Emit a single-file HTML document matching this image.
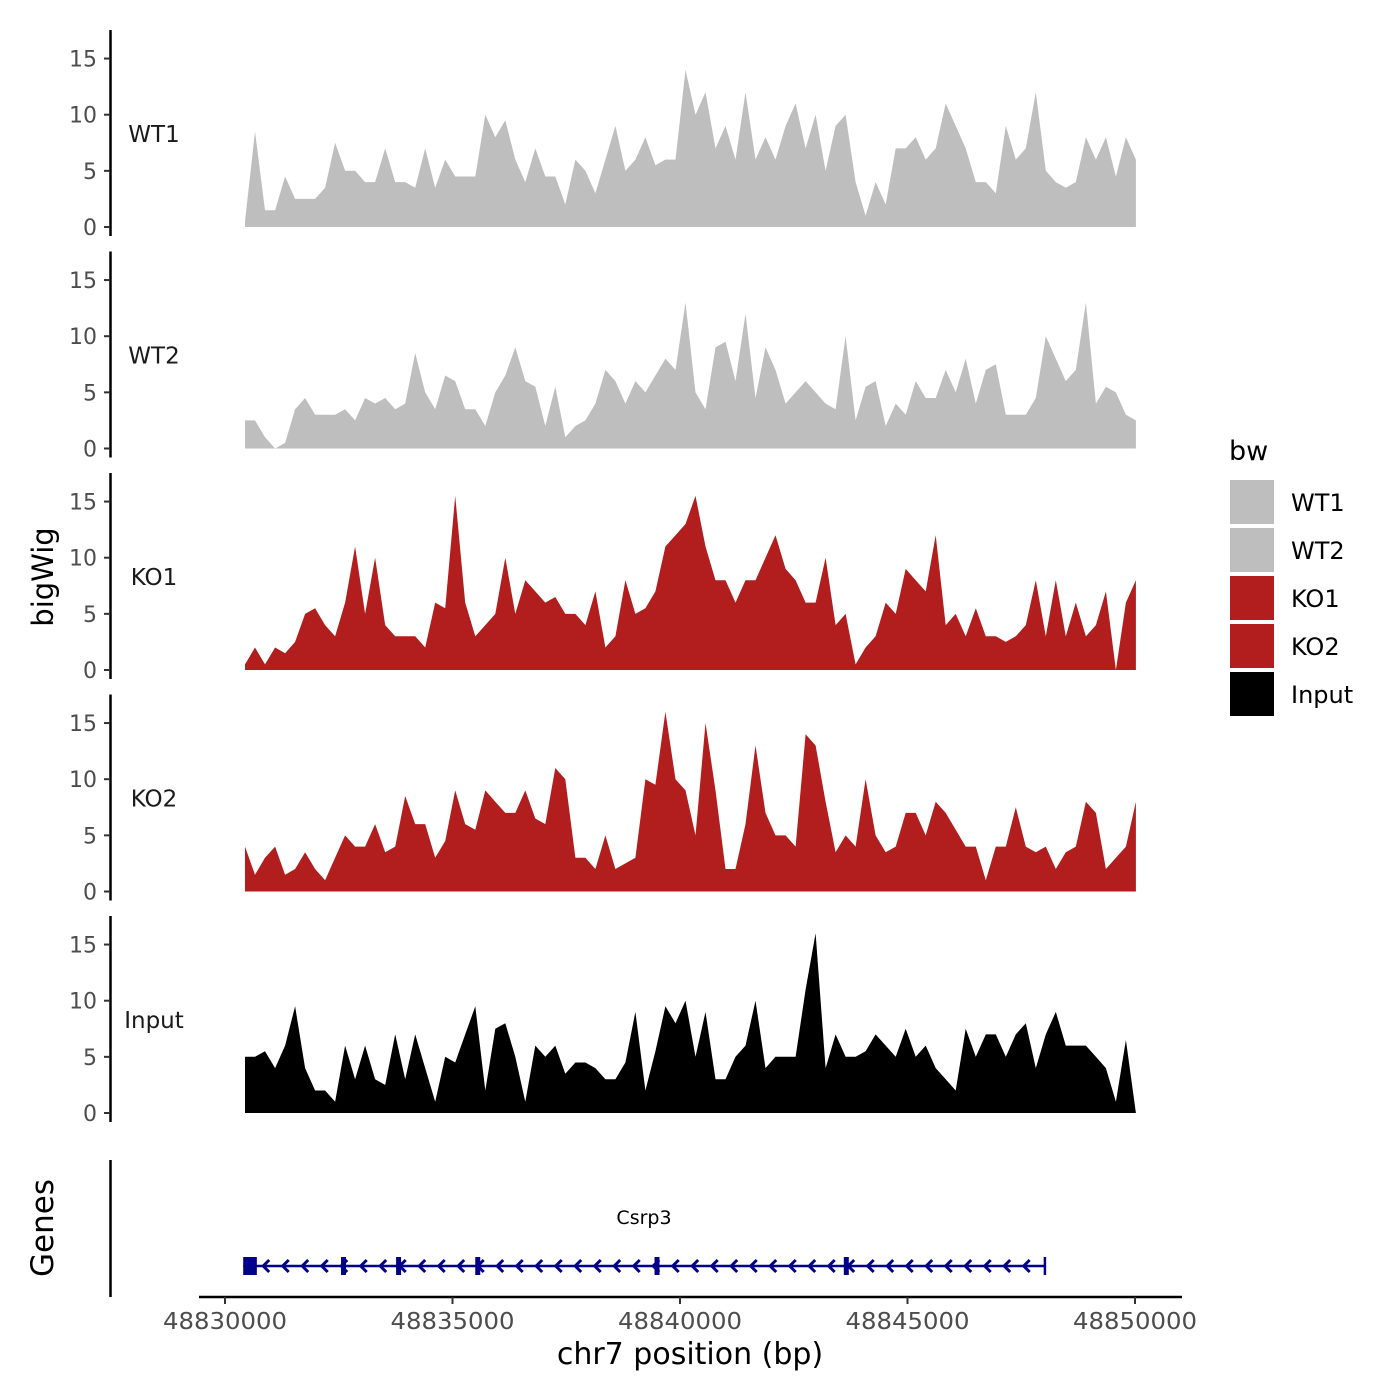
<!DOCTYPE html>
<html><head><meta charset="utf-8">
<style>
html,body{margin:0;padding:0;background:#fff;}
svg{display:block;font-family:"DejaVu Sans","Liberation Sans",sans-serif;}
</style></head>
<body>
<svg id="chart" width="1400" height="1400" viewBox="0 0 1400 1400" xmlns="http://www.w3.org/2000/svg">
<rect x="0" y="0" width="1400" height="1400" fill="#fff"/>
<g id="tracks"></g>
<g id="genes"></g>
<g id="xaxis"></g>
<text x="53" y="577" font-size="29" fill="#000" text-anchor="middle" transform="rotate(-90 53 577)">bigWig</text>
<text x="53" y="1228" font-size="31" fill="#000" text-anchor="middle" transform="rotate(-90 53 1228)">Genes</text>
<text x="690" y="1364" font-size="30" fill="#000" text-anchor="middle">chr7 position (bp)</text>
<g id="legend">
<text x="1229" y="460" font-size="27" fill="#000">bw</text>
</g>
</svg>
<script>
const trackNames = ["WT1","WT2","KO1","KO2","Input"];
const trackColors = ["#bebebe","#bebebe","#b21e1e","#b21e1e","#000000"];
const binStart = 48830440;
const binStep = 220;
const wt1 = [0.5,8.5,1.5,1.5,4.5,2.5,2.5,2.5,3.5,7.5,5,5,4,4,7,4,4,3.5,7,3.5,6,4.5,4.5,4.5,10,8,9.5,6,4,7,4.5,4.5,2,6,5,3,6,9,5,6,8,5.5,6,6,14,10,12,7,9,6,12,6,8,6,9,11,7,10,5,9,10,4,1,4,2,7,7,8,6,7,11,9,7,4,4,3,9,6,7,12,5,4,3.5,4,8,6,8,4.5,8,6];
const wt2 = [2.5,2.5,1,0,0.5,3.5,4.5,3,3,3,3.5,2.5,4.5,4,4.5,3.5,4,8.5,5,3.5,6.5,6,3.5,3.5,2,5,6.5,9,6,5.5,2,5.5,1,2,2.5,4,7,6,4,6,5,6.5,8,7,13,5,3.5,9,9.5,6,12,4.5,9,7,4,5,6,5,4,3.5,10,2.5,5.5,6,2,4,3,6,4.5,4.5,7,5,8,4,7,7.5,3,3,3,4.5,10,8,6,7,13,4,5.5,5,3,2.5];
const ko1 = [0.5,2,0.5,2,1.5,2.5,5,5.5,4,3,6,11,5,10,4,3,3,3,2,6,5.5,15.5,6,3,4,5,10,5,8,7,6,6.5,5,5,4,7,2,3,8,5,5.5,7,11,12,13,15.5,11,8,8,6,8,8,10,12,9,8,6,6,10,4,5,0.5,2,3,6,5,9,8,7,12,4,5,3,5.5,3,3,2.5,3,4,8,3,8,3,6,3,4,7,0,6,8];
const ko2 = [4,1.5,3,4,1.5,2,3.5,2,1,3,5,4,4,6,3.5,4,8.5,6,6,3,4.5,9,6,5.5,9,8,7,7,9,6.5,6,11,10,3,3,2,5,2,2.5,3,10,9.5,16,10,9,5,15,9,2,2,6,13,7,5,5,4,14,13,8,3.5,5,4,10,5,3.5,4,7,7,5,8,7,5.5,4,4,1,4,4,7.5,4,3.5,4,2,3.5,4,8,7,2,3,4,8];
const inputTrack = [5,5,5.5,4,6,9.5,4,2,2,1,6,3,6,3,2.5,7,3,7,4,1,5,4.5,7,9.5,2,7.5,8,5,1,6,5,6,3.5,4.5,4.5,4,3,3,4.5,9,2,5.5,9.5,8,10,5,9,3,3,5,6,10,4,5,5,5,11,16,4,7,5,5,5.5,7,6,5,7.5,5,6,4,3,2,7.5,5,7,7,5,7,8,4,7,9,6,6,6,5,4,1,6.5,0];
const yTicks = [0,5,10,15];
const xTicks = [48830000,48835000,48840000,48845000,48850000];
const xTickLabels = ["48830000","48835000","48840000","48845000","48850000"];
const geneName = "Csrp3";
const geneStart = 48830400;
const geneEnd = 48848020;
const exonStarts = [48830400,48832550,48833760,48835500,48839440,48843600];
const exonEnds = [48830700,48832650,48833860,48835600,48839540,48843700];

const series = [wt1, wt2, ko1, ko2, inputTrack];
const NS = "http://www.w3.org/2000/svg";
function xs(bp){ return 225 + (bp - 48830000) * 227.5 / 5000; }
const zeros = [227, 448.5, 670, 891.5, 1113];
const pxPerUnit = 11.23;
function ys(v, t){ return zeros[t] - v * pxPerUnit; }
function mk(tag, attrs, parent){ const e = document.createElementNS(NS, tag); for (const k in attrs) e.setAttribute(k, attrs[k]); parent.appendChild(e); return e; }

const tracks = document.getElementById('tracks');
series.forEach((vals, t) => {
  const g = mk('g', {}, tracks);
  
  
  let d = 'M' + xs(binStart).toFixed(1) + ',' + ys(0, t);
  vals.forEach((v, i) => { d += 'L' + xs(binStart + i * binStep).toFixed(1) + ',' + ys(v, t).toFixed(1); });
  d += 'L' + xs(binStart + (vals.length - 1) * binStep).toFixed(1) + ',' + ys(0, t) + 'Z';
  const p = mk('path', {d: d, fill: trackColors[t]}, g);
  
  
  const ax = mk('line', {x1: 110.5, x2: 110.5, y1: zeros[t] - 197, y2: zeros[t] + 9, stroke: '#000', 'stroke-width': 2.5}, g);
  
  
  yTicks.forEach(v => {
    const tk = mk('line', {x1: 104, x2: 110, y1: ys(v, t), y2: ys(v, t), stroke: '#333', 'stroke-width': 2}, g);
    
    
    const tl = mk('text', {x: 97, y: ys(v, t) + 8, 'font-size': 22, fill: '#4d4d4d', 'text-anchor': 'end'}, g);
    tl.textContent = String(v);
    
    
  });
  const lab = mk('text', {x: 154, y: zeros[t] - 85, 'font-size': 23, fill: '#1a1a1a', 'text-anchor': 'middle'}, g);
  lab.textContent = trackNames[t];
  
  
});

const genes = document.getElementById('genes');
const gax = mk('line', {x1: 110.5, x2: 110.5, y1: 1160, y2: 1297, stroke: '#000', 'stroke-width': 2.5}, genes);


const gy = 1266;
const gl = mk('line', {x1: xs(geneStart), x2: xs(geneEnd), y1: gy, y2: gy, stroke: '#00008b', 'stroke-width': 2.5}, genes);


for (let x = xs(geneStart) + 20; x < xs(geneEnd) - 5; x += 19.5) {
  const c = mk('path', {d: 'M' + (x + 6) + ',' + (gy - 6) + 'L' + x + ',' + gy + 'L' + (x + 6) + ',' + (gy + 6), stroke: '#00008b', 'stroke-width': 3, fill: 'none'}, genes);
  
  
}
exonStarts.forEach((s, i) => {
  const r = mk('rect', {x: xs(s), y: gy - 9, width: Math.max(5, xs(exonEnds[i]) - xs(s)), height: 18, fill: '#00008b'}, genes);
  
  
});
const gend = mk('line', {x1: xs(geneEnd), x2: xs(geneEnd), y1: gy - 9, y2: gy + 9, stroke: '#00008b', 'stroke-width': 2.5}, genes);


const gname = mk('text', {x: 644, y: 1224, 'font-size': 19, fill: '#000', 'text-anchor': 'middle'}, genes);
gname.textContent = geneName;



const xaxis = document.getElementById('xaxis');
const xl = mk('line', {x1: 199, x2: 1182, y1: 1297, y2: 1297, stroke: '#000', 'stroke-width': 2.5}, xaxis);


xTicks.forEach((v, i) => {
  const tk = mk('line', {x1: xs(v), x2: xs(v), y1: 1297, y2: 1304, stroke: '#333', 'stroke-width': 2}, xaxis);
  
  
  const tl = mk('text', {x: xs(v), y: 1329, 'font-size': 23, fill: '#4d4d4d', 'text-anchor': 'middle', textLength: 124, lengthAdjust: 'spacingAndGlyphs'}, xaxis);
  tl.textContent = xTickLabels[i];
  
  
});

const legend = document.getElementById('legend');
trackNames.forEach((n, i) => {
  const r = mk('rect', {x: 1230, y: 480 + i * 48, width: 44, height: 44, fill: trackColors[i]}, legend);
  
  
  const t = mk('text', {x: 1291, y: 480 + i * 48 + 31, 'font-size': 24, fill: '#000'}, legend);
  t.textContent = n;
  
  
});
</script>
</body></html>
